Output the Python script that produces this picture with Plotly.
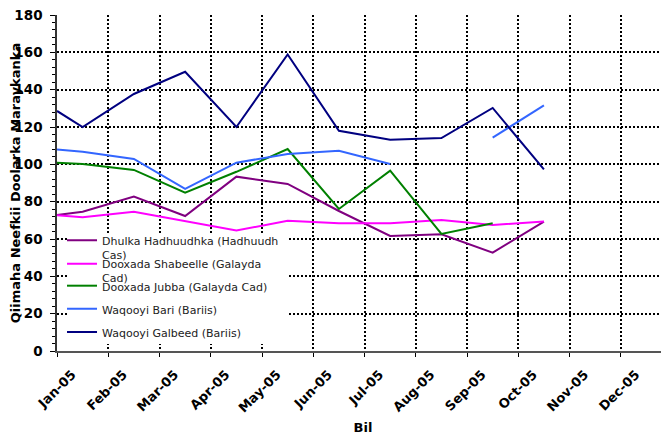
import plotly.graph_objects as go

# month position (0 = 1 Jan 2005, 1 month per unit)
month_pos = [0, 0.5, 1.5, 2.5, 3.5, 4.5, 5.5, 6.5, 7.5, 8.5, 9.5]
month_labels = ["Jan-05", "Feb-05", "Mar-05", "Apr-05", "May-05", "Jun-05",
                "Jul-05", "Aug-05", "Sep-05", "Oct-05", "Nov-05", "Dec-05"]

dhulka_hadhuudhka = [72.9, 74.6, 82.7, 72.3, 93.4, 89.5, 75.0, 61.6, 62.5, 52.7, 69.3]
dooxada_shabeelle = [72.7, 71.6, 74.6, 69.6, 64.5, 69.8, 68.4, 68.4, 70.2, 67.5, 69.4]
dooxada_jubba = [100.9, 100.2, 97.0, 84.8, 96.0, 108.2, 76.1, 96.6, 62.7, 68.4, None]
waqooyi_bari = [108.0, 106.8, 102.9, 86.8, 100.9, 105.5, 107.3, 100.2, None, 114.3, 131.6]
waqooyi_galbeed = [128.6, 120.0, 137.7, 149.6, 120.0, 158.9, 118.0, 113.2, 114.1, 130.2, 97.3]

series = [
    ("Dhulka Hadhuudhka (Hadhuudh<br>Cas)", dhulka_hadhuudhka, "#800080"),
    ("Dooxada Shabeelle (Galayda<br>Cad)", dooxada_shabeelle, "#FF00FF"),
    ("Dooxada Jubba (Galayda Cad)", dooxada_jubba, "#008000"),
    ("Waqooyi Bari (Bariis)", waqooyi_bari, "#3366FF"),
    ("Waqooyi Galbeed (Bariis)", waqooyi_galbeed, "#000080"),
]

FONT = "DejaVu Sans, Verdana, sans-serif"

fig = go.Figure()

# one legend per entry so the rows sit evenly like the original
legend_ids = ["legend", "legend2", "legend3", "legend4", "legend5"]
legend_y = [0.370, 0.300, 0.235, 0.166, 0.097]

for (name, vals, color), lid in zip(series, legend_ids):
    fig.add_trace(go.Scatter(
        x=month_pos, y=vals,
        mode="lines",
        name=name,
        line=dict(color=color, width=2),
        connectgaps=False,
        legend=lid,
    ))

# white patch behind the legend so the grid doesn't run through it
fig.add_shape(
    type="rect", xref="paper", yref="paper",
    x0=0.018, x1=0.376, y0=0.021, y1=0.351,
    fillcolor="white", line=dict(width=0), layer="above",
)

legends = {}
for lid, ly in zip(legend_ids, legend_y):
    legends[lid] = dict(
        x=0.0082, y=ly, xanchor="left", yanchor="top",
        bgcolor="rgba(0,0,0,0)", borderwidth=0,
        font=dict(family=FONT, size=11, color="#222222"),
        itemwidth=30, valign="top",
    )

# page body has an 8px margin, so the figure is 8px smaller and margins shifted
fig.update_layout(
    width=661, height=427,
    paper_bgcolor="white",
    plot_bgcolor="white",
    margin=dict(l=49, r=0, t=7, b=84, autoexpand=False),
    font=dict(family=FONT, color="black"),
    showlegend=True,
    **legends,
    xaxis=dict(
        range=[0, 11.94],
        tickvals=list(range(len(month_labels))),
        ticktext=month_labels,
        tickangle=-45,
        tickfont=dict(size=13, family=FONT, weight="bold"),
        ticklabelshift=15, ticklabelstandoff=5,
        showgrid=True, gridcolor="black", gridwidth=1.5, griddash="2px,2px",
        showline=True, linecolor="#555555", linewidth=2,
        ticks="outside", ticklen=4, tickcolor="black",
        zeroline=False,
        title=dict(text="<b>Bil</b>", font=dict(size=13, family=FONT), standoff=8),
    ),
    yaxis=dict(
        range=[0, 180],
        dtick=20,
        tickfont=dict(size=13.5, family=FONT, weight="bold"),
        ticklabelstandoff=5, ticklabeloverflow="allow",
        showgrid=True, gridcolor="black", gridwidth=1.5, griddash="2px,2px",
        showline=True, linecolor="#333333", linewidth=1.5,
        ticks="outside", ticklen=5, tickcolor="black",
        minor=dict(dtick=4, ticks="outside", ticklen=3, tickcolor="black", showgrid=False),
        zeroline=False,
        title=dict(text="<b>Qiimaha Neefkii Doolarka Maraykanka</b>",
                   font=dict(size=13, family=FONT)),
    ),
)

fig.write_html("out.html")
